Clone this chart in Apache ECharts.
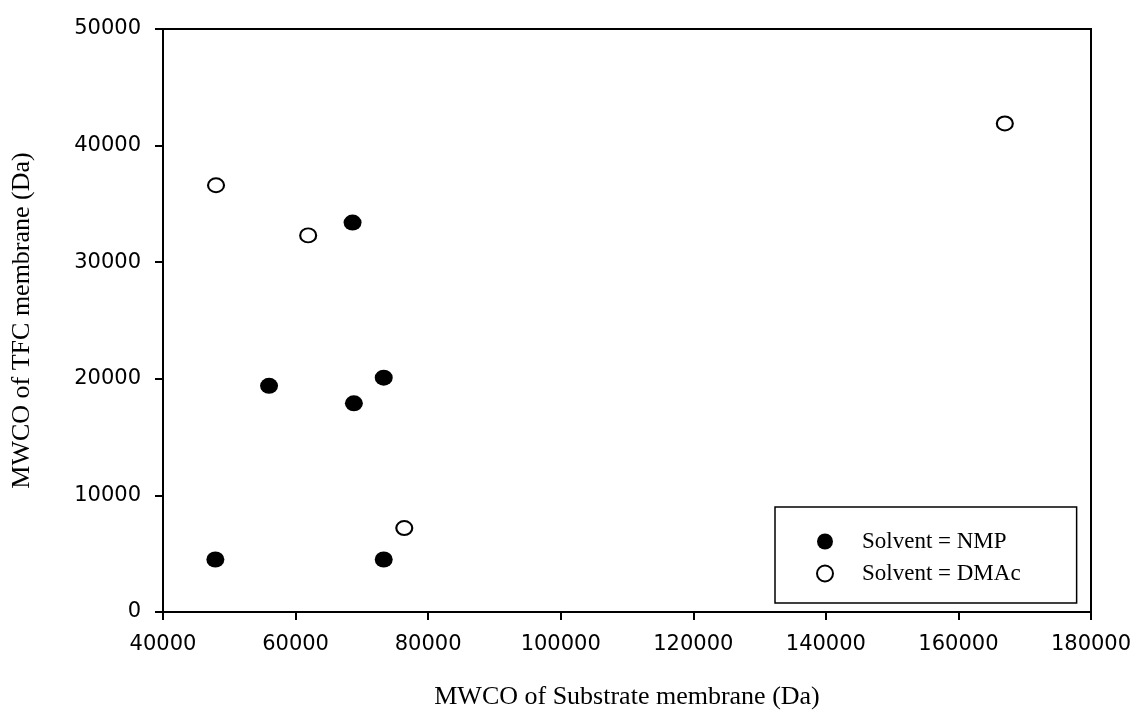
<!DOCTYPE html>
<html>
<head>
<meta charset="utf-8">
<script src="https://cdn.jsdelivr.net/npm/echarts@6/dist/echarts.min.js"></script>
<style>
html,body{margin:0;padding:0;background:#fff;}
#c{width:1137px;height:715px;}
</style>
</head>
<body>
<div id="c"></div>
<script>
var xTicks = [40000, 60000, 80000, 100000, 120000, 140000, 160000, 180000];
var yTicks = [0, 10000, 20000, 30000, 40000, 50000];
var seriesNames = ['Solvent = NMP', 'Solvent = DMAc'];
var nmpPoints = [[47900, 4500], [73300, 4500], [56000, 19400], [68800, 17900], [73300, 20100], [68600, 33400]];
var dmacPoints = [[48000, 36600], [61900, 32300], [76400, 7200], [167000, 41900]];

var chart = echarts.init(document.getElementById('c'), null, {renderer: 'canvas'});
var tickFont = {fontFamily: 'DejaVu Sans', fontSize: 21, color: '#000', formatter: function (v) { return String(v); }};
var titleFont = {fontFamily: 'Liberation Serif', fontSize: 26, color: '#000'};
chart.setOption({
  animation: false,
  backgroundColor: '#fff',
  grid: {left: 163, right: 46, top: 29, bottom: 103, show: true, borderColor: '#000', borderWidth: 2, backgroundColor: 'transparent'},
  xAxis: {
    type: 'value', min: xTicks[0], max: xTicks[xTicks.length - 1], interval: 20000,
    name: 'MWCO of Substrate membrane (Da)', nameLocation: 'middle', nameGap: 72,
    nameTextStyle: titleFont,
    axisLine: {show: true, onZero: false, lineStyle: {color: '#000', width: 2}},
    axisTick: {show: true, length: 8, lineStyle: {color: '#000', width: 2}},
    axisLabel: Object.assign({margin: 22}, tickFont),
    splitLine: {show: false}
  },
  yAxis: {
    type: 'value', min: yTicks[0], max: yTicks[yTicks.length - 1], interval: 10000,
    name: 'MWCO of TFC membrane (Da)', nameLocation: 'middle', nameGap: 128,
    nameTextStyle: titleFont,
    axisLine: {show: true, onZero: false, lineStyle: {color: '#000', width: 2}},
    axisTick: {show: true, length: 8, lineStyle: {color: '#000', width: 2}},
    axisLabel: Object.assign({margin: 22}, tickFont),
    splitLine: {show: false}
  },
  legend: {
    orient: 'vertical', left: 775, top: 507,
    data: seriesNames,
    padding: [23, 56, 18, 41],
    itemGap: 9, itemWidth: 16, itemHeight: 16,
    borderColor: '#000', borderWidth: 1.5, borderRadius: 0,
    backgroundColor: '#fff',
    textStyle: {fontFamily: 'Liberation Serif', fontSize: 23, color: '#000', padding: [0, 0, 0, 24]}
  },
  series: [
    {
      name: seriesNames[0], type: 'scatter', data: nmpPoints,
      symbol: 'circle', symbolSize: [18, 16],
      itemStyle: {color: '#000', borderColor: '#000', borderWidth: 0, opacity: 1}
    },
    {
      name: seriesNames[1], type: 'scatter', data: dmacPoints,
      symbol: 'circle', symbolSize: [16, 14],
      itemStyle: {color: '#fff', borderColor: '#000', borderWidth: 2, opacity: 1}
    }
  ]
});
</script>
</body>
</html>
